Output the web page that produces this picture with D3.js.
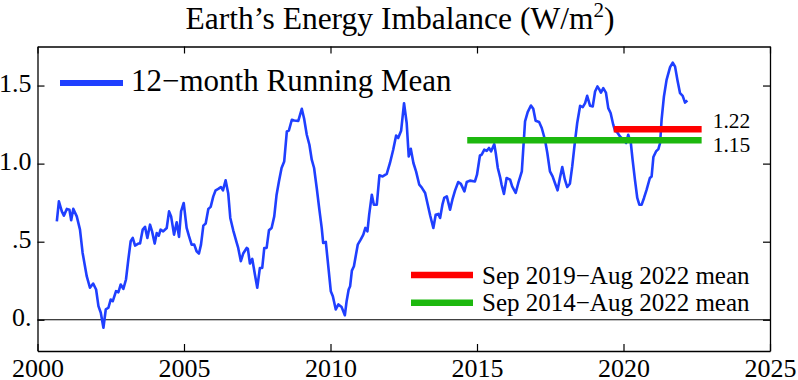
<!DOCTYPE html>
<html>
<head>
<meta charset="utf-8">
<script src="https://cdn.jsdelivr.net/npm/d3@7"></script>
<style>
  body { margin: 0; background: #fff; }
  svg text { font-family: "Liberation Serif", "Times New Roman", serif; fill: #000; }
</style>
</head>
<body>
<div id="chart-container"></div>
<script>
// 12-month running mean (year, W/m2)
const years = [
  2000.66, 2000.73, 2000.83, 2000.90, 2001.00, 2001.09, 2001.15, 2001.22, 2001.34, 2001.45,
  2001.54, 2001.68, 2001.79, 2001.90, 2002.00, 2002.08, 2002.16, 2002.25, 2002.33, 2002.42,
  2002.50, 2002.57, 2002.68, 2002.76, 2002.84, 2002.93, 2003.02, 2003.10, 2003.18, 2003.25,
  2003.33, 2003.44, 2003.50, 2003.59, 2003.67, 2003.75, 2003.84, 2003.91, 2004.00, 2004.07,
  2004.14, 2004.20, 2004.29, 2004.41, 2004.49, 2004.56, 2004.66, 2004.75, 2004.83, 2004.90,
  2004.99, 2005.09, 2005.17, 2005.26, 2005.35, 2005.43, 2005.51, 2005.58, 2005.66, 2005.74,
  2005.83, 2005.91, 2006.00, 2006.08, 2006.17, 2006.26, 2006.33, 2006.42, 2006.51, 2006.58,
  2006.68, 2006.80, 2006.85, 2006.94, 2007.02, 2007.14, 2007.18, 2007.25, 2007.33, 2007.42,
  2007.50, 2007.59, 2007.67, 2007.74, 2007.82, 2007.90, 2007.99, 2008.08, 2008.16, 2008.24,
  2008.33, 2008.42, 2008.51, 2008.58, 2008.68, 2008.76, 2008.90, 2009.02, 2009.10, 2009.19,
  2009.28, 2009.36, 2009.44, 2009.53, 2009.62, 2009.70, 2009.75, 2009.84, 2009.93, 2010.01,
  2010.08, 2010.18, 2010.27, 2010.38, 2010.49, 2010.55, 2010.62, 2010.67, 2010.73, 2010.80,
  2010.87, 2010.93, 2011.03, 2011.12, 2011.19, 2011.26, 2011.32, 2011.41, 2011.48, 2011.58,
  2011.67, 2011.78, 2011.92, 2012.03, 2012.14, 2012.24, 2012.31, 2012.41, 2012.51, 2012.60,
  2012.67, 2012.74, 2012.83, 2012.92, 2013.03, 2013.11, 2013.23, 2013.32, 2013.40, 2013.51,
  2013.59, 2013.68, 2013.74, 2013.82, 2013.88, 2013.97, 2014.08, 2014.16, 2014.25, 2014.36,
  2014.45, 2014.57, 2014.65, 2014.76, 2014.93, 2015.00, 2015.10, 2015.16, 2015.25, 2015.33,
  2015.41, 2015.48, 2015.59, 2015.64, 2015.71, 2015.79, 2015.84, 2015.92, 2016.01, 2016.13,
  2016.20, 2016.32, 2016.41, 2016.53, 2016.64, 2016.73, 2016.84, 2016.92, 2017.00, 2017.12,
  2017.21, 2017.32, 2017.40, 2017.49, 2017.58, 2017.66, 2017.75, 2017.83, 2017.91, 2018.00,
  2018.08, 2018.17, 2018.25, 2018.34, 2018.42, 2018.52, 2018.61, 2018.69, 2018.76, 2018.86,
  2018.95, 2019.03, 2019.11, 2019.17, 2019.23, 2019.31, 2019.40, 2019.48, 2019.56, 2019.65,
  2019.71, 2019.79, 2019.88, 2019.99, 2020.09, 2020.16, 2020.25, 2020.31, 2020.39, 2020.47,
  2020.54, 2020.62, 2020.70, 2020.79, 2020.90, 2020.96, 2021.02, 2021.11, 2021.19, 2021.25,
  2021.30, 2021.38, 2021.47, 2021.59, 2021.68, 2021.76, 2021.84, 2021.93, 2022.02, 2022.10,
  2022.18
];
const imbalance = [
  0.630, 0.758, 0.694, 0.667, 0.710, 0.705, 0.637, 0.710, 0.662, 0.577,
  0.428, 0.279, 0.205, 0.232, 0.194, 0.087, 0.045, -0.051, 0.066, 0.077,
  0.130, 0.119, 0.183, 0.176, 0.226, 0.198, 0.258, 0.386, 0.503, 0.524,
  0.475, 0.488, 0.488, 0.577, 0.595, 0.524, 0.609, 0.566, 0.488, 0.556,
  0.539, 0.577, 0.566, 0.588, 0.694, 0.662, 0.545, 0.624, 0.531, 0.694,
  0.748, 0.588, 0.535, 0.481, 0.481, 0.439, 0.424, 0.481, 0.603, 0.616,
  0.710, 0.723, 0.790, 0.829, 0.838, 0.850, 0.829, 0.893, 0.808, 0.652,
  0.573, 0.492, 0.460, 0.375, 0.424, 0.460, 0.454, 0.360, 0.390, 0.290,
  0.205, 0.332, 0.332, 0.460, 0.460, 0.573, 0.588, 0.662, 0.801, 0.886,
  0.972, 1.014, 1.206, 1.212, 1.281, 1.276, 1.274, 1.351, 1.287, 1.185,
  1.121, 1.025, 0.972, 0.844, 0.705, 0.588, 0.492, 0.499, 0.332, 0.183,
  0.151, 0.066, 0.098, 0.081, 0.029, 0.119, 0.194, 0.215, 0.315, 0.343,
  0.418, 0.481, 0.513, 0.545, 0.588, 0.566, 0.673, 0.801, 0.737, 0.737,
  0.925, 0.918, 0.934, 1.004, 1.089, 1.180, 1.164, 1.210, 1.387, 1.260,
  1.046, 1.095, 1.004, 0.950, 0.865, 0.848, 0.812, 0.737, 0.669, 0.588,
  0.673, 0.678, 0.652, 0.737, 0.780, 0.790, 0.705, 0.769, 0.827, 0.882,
  0.870, 0.822, 0.882, 0.891, 0.886, 0.929, 1.052, 1.057, 1.089, 1.082,
  1.100, 1.078, 1.125, 1.068, 0.972, 0.912, 0.865, 0.806, 0.908, 0.897,
  0.854, 0.812, 0.876, 0.950, 1.270, 1.330, 1.372, 1.351, 1.274, 1.266,
  1.228, 1.153, 1.068, 0.950, 0.918, 0.876, 0.829, 0.908, 0.978, 0.897,
  0.850, 0.871, 0.982, 1.136, 1.260, 1.370, 1.362, 1.387, 1.434, 1.370,
  1.366, 1.462, 1.494, 1.477, 1.455, 1.483, 1.455, 1.355, 1.324, 1.249,
  1.212, 1.199, 1.174, 1.153, 1.132, 1.185, 1.132, 1.025, 0.897, 0.780,
  0.737, 0.737, 0.780, 0.833, 0.908, 0.918, 1.042, 1.078, 1.093, 1.132,
  1.281, 1.430, 1.536, 1.618, 1.647, 1.621, 1.536, 1.451, 1.434, 1.391,
  1.404
];

const xTicks = [2000, 2005, 2010, 2015, 2020, 2025];
const yTicks = [0, 0.5, 1.0, 1.5];
const yTickLabels = ["0.", ".5", "1.0", "1.5"];

const meanLabels = ["Sep 2019\u2212Aug 2022 mean", "Sep 2014\u2212Aug 2022 mean"];
const meanValues = [1.22, 1.15];
const meanStarts = [2019 + 8 / 12, 2014 + 8 / 12];
const meanEnds = [2022 + 8 / 12, 2022 + 8 / 12];
const meanColors = ["#ff0000", "#1db80e"];

const seriesLabel = "12\u2212month Running Mean";
const lineColor = "#1f3fff";

const svgWidth = 798;
const svgHeight = 380;
const margin = { top: 46.5, right: 28, bottom: 29, left: 37.5 };
const width = svgWidth - margin.left - margin.right;
const height = svgHeight - margin.top - margin.bottom;

const svg = d3.select("#chart-container").append("svg")
  .attr("width", svgWidth)
  .attr("height", svgHeight);

const chart = svg.append("g")
  .attr("transform", `translate(${margin.left},${margin.top})`);

const x = d3.scaleLinear().domain([2000, 2025]).range([0, width]);
const y = d3.scaleLinear().domain([-0.2, 1.75]).range([height, 0]);

const fontFamily = '"Liberation Serif", "Times New Roman", serif';

// frame = four axes with inward ticks
chart.append("g")
  .attr("transform", `translate(0,${height})`)
  .call(d3.axisBottom(x).tickValues(xTicks).tickFormat(d3.format("d"))
    .tickSizeInner(-7).tickSizeOuter(0).tickPadding(8))
  .attr("font-size", 26).attr("font-family", fontFamily);

chart.append("g")
  .call(d3.axisTop(x).tickValues(xTicks).tickFormat("")
    .tickSizeInner(-7).tickSizeOuter(0));

chart.append("g")
  .call(d3.axisLeft(y).tickValues(yTicks).tickFormat((d, i) => yTickLabels[i])
    .tickSizeInner(-7).tickSizeOuter(0).tickPadding(6))
  .attr("font-size", 26).attr("font-family", fontFamily)
  .selectAll("text").attr("dy", "0.22em");

chart.append("g")
  .attr("transform", `translate(${width},0)`)
  .call(d3.axisRight(y).tickValues(yTicks).tickFormat("")
    .tickSizeInner(-7).tickSizeOuter(0));

chart.selectAll(".domain").attr("stroke-width", 1.3);
chart.selectAll(".tick line").attr("stroke-width", 1.2);

// zero line
chart.append("line")
  .attr("x1", 0).attr("x2", width)
  .attr("y1", y(0)).attr("y2", y(0))
  .attr("stroke", "#000").attr("stroke-width", 1.2);

// series
const data = years.map((t, i) => ({ t, v: imbalance[i] }));
chart.append("path")
  .datum(data)
  .attr("fill", "none")
  .attr("stroke", lineColor)
  .attr("stroke-width", 2.6)
  .attr("stroke-linejoin", "round")
  .attr("d", d3.line().x(d => x(d.t)).y(d => y(d.v)));

// mean bars
const means = meanValues.map((v, i) => ({
  value: v, start: meanStarts[i], end: meanEnds[i], color: meanColors[i], label: meanLabels[i]
}));

chart.selectAll(".mean")
  .data(means)
  .enter().append("line")
  .attr("class", "mean")
  .attr("x1", d => x(d.start)).attr("x2", d => x(d.end))
  .attr("y1", d => y(d.value)).attr("y2", d => y(d.value))
  .attr("stroke", d => d.color)
  .attr("stroke-width", 6.5);

chart.selectAll(".mean-label")
  .data(means)
  .enter().append("text")
  .attr("class", "mean-label")
  .attr("x", d => x(d.end) + 11)
  .attr("y", (d, i) => y(d.value) + (i === 0 ? -1 : 12))
  .attr("font-size", 21.5)
  .text(d => d3.format(".2f")(d.value));

// legend (top left)
svg.append("line")
  .attr("x1", 60).attr("x2", 123).attr("y1", 83).attr("y2", 83)
  .attr("stroke", lineColor).attr("stroke-width", 6);
svg.append("text")
  .attr("x", 131).attr("y", 91)
  .attr("font-size", 31)
  .text(seriesLabel);

// legend (bottom right)
const legend = svg.selectAll(".mean-legend")
  .data(means)
  .enter().append("g")
  .attr("class", "mean-legend")
  .attr("transform", (d, i) => `translate(411,${275 + i * 27.7})`);
legend.append("line")
  .attr("x1", 0).attr("x2", 62)
  .attr("stroke", d => d.color).attr("stroke-width", 6.5);
legend.append("text")
  .attr("x", 71).attr("y", 8.5)
  .attr("font-size", 25)
  .text(d => d.label);

// title
const title = svg.append("text")
  .attr("x", 400).attr("y", 29)
  .attr("text-anchor", "middle")
  .attr("font-size", 31.5);
title.append("tspan").text("Earth\u2019s Energy Imbalance (W/m");
title.append("tspan").attr("dy", -12).attr("font-size", 21).text("2");
title.append("tspan").attr("dy", 12).text(")");
</script>
</body>
</html>
